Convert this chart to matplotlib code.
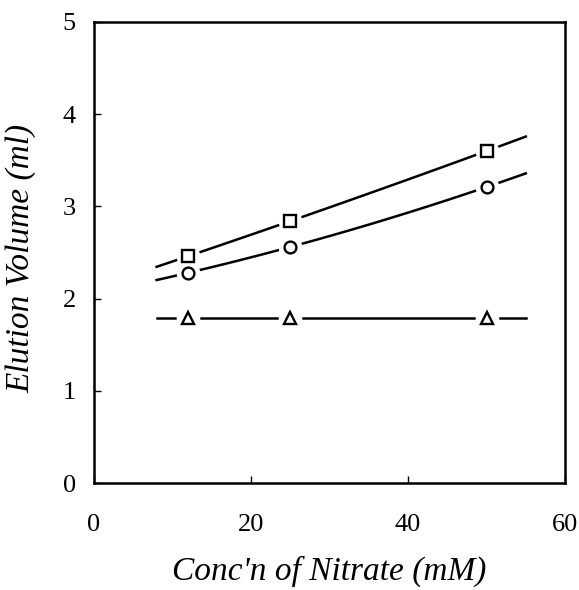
import numpy as np
import matplotlib.pyplot as plt

plt.rcParams['font.family'] = ['Liberation Serif', 'DejaVu Serif']

# nitrate concentration (mM) and elution volumes (ml)
conc = np.array([12, 25, 50])
vol_square = np.array([2.46, 2.84, 3.60])
vol_circle = np.array([2.28, 2.56, 3.21])
vol_triangle = np.array([1.79, 1.79, 1.79])

# range of the fitted curves
fit_start, fit_end = 8, 55

fig = plt.figure(figsize=(5.79, 5.90), dpi=100)
ax = fig.add_axes([0.162, 0.181, 0.814, 0.782])

xs = np.linspace(fit_start, fit_end, 100)
for vals, mk in [(vol_square, 's'), (vol_circle, 'o'), (vol_triangle, '^')]:
    coef = np.polyfit(conc, vals, 2)
    ax.plot(xs, np.polyval(coef, xs), color='black', lw=1.8, zorder=1)
    # white halo gives the broken-line look around each marker
    ax.plot(conc, vals, linestyle='none', marker='o', ms=16, mfc='white',
            mec='white', zorder=2)
    ax.plot(conc, vals, linestyle='none', marker=mk, ms=8.5, mfc='white',
            mec='black', mew=1.7, zorder=3)

ax.set_xlim(0, 60)
ax.set_ylim(0, 5)
ax.set_xticks([0, 20, 40, 60])
ax.set_yticks([0, 1, 2, 3, 4, 5])
ax.tick_params(direction='in', length=5, width=1, labelsize=19)
ax.tick_params(axis='x', pad=22)
ax.tick_params(axis='y', pad=13)
for s in ax.spines.values():
    s.set_linewidth(1.8)

ax.set_xlabel("Conc'n of Nitrate (mM)", fontsize=24, style='italic', labelpad=14)
ax.set_ylabel("Elution Volume (ml)", fontsize=24, style='italic')
ax.yaxis.set_label_coords(-0.121, 0.487)

fig.savefig('out.png', dpi=100)
